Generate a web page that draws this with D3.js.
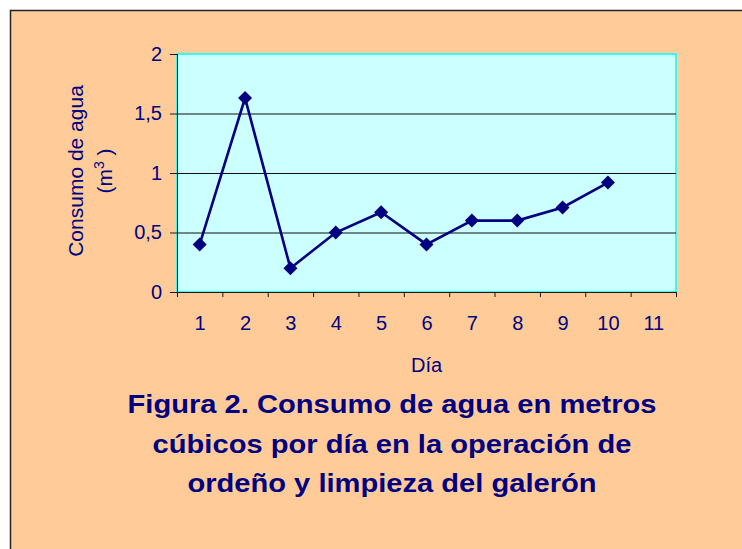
<!DOCTYPE html>
<html>
<head>
<meta charset="utf-8">
<script src="https://cdn.jsdelivr.net/npm/d3@7"></script>
<style>
  body { margin: 0; background: #fff; }
  svg { display: block; font-family: "Liberation Sans", Arial, sans-serif; }
  .axis path, .axis line { stroke: #1a1a1a; }
  .axis text { fill: #000080; font-size: 20px; }
</style>
</head>
<body>
<div id="chart"></div>
<script>
// data
var days = [1, 2, 3, 4, 5, 6, 7, 8, 9, 10, 11];
var consumo = [0.4, 1.63, 0.2, 0.5, 0.67, 0.4, 0.6, 0.6, 0.71, 0.92];
var yTicks = [0, 0.5, 1, 1.5, 2];
var yTitle = "Consumo de agua";
var xTitle = "Día";
var titleLines = [
    "Figura 2. Consumo de agua en metros",
    "cúbicos por día en la operación de",
    "ordeño y limpieza del galerón"
];

function init() {
    var w = 742, h = 549;
    var left = 177, right = 676, top = 54, bottom = 292;
    var navy = "#000080";

    var svg = d3.select("#chart").append("svg").attr("width", w).attr("height", h);

    // outer frame
    svg.append("rect")
        .attr("x", 10.5).attr("y", 10.5)
        .attr("width", 800).attr("height", 600)
        .attr("fill", "#FFCC99")
        .attr("stroke", "#222").attr("stroke-width", 1.5);

    var xScale = d3.scaleLinear().domain([0.5, days.length + 0.5]).range([left, right]);
    var yScale = d3.scaleLinear().domain([0, 2]).range([bottom, top]);

    // plot area
    svg.append("rect")
        .attr("x", left).attr("y", top)
        .attr("width", right - left).attr("height", bottom - top)
        .attr("fill", "#CCFFFF")
        .attr("stroke", "#00FFFF").attr("stroke-width", 1.5);

    // gridlines
    svg.append("g").selectAll("line")
        .data(yTicks.filter(function (d) { return d > 0 && d < 2; }))
        .enter().append("line")
        .attr("x1", left).attr("x2", right)
        .attr("y1", function (d) { return yScale(d) + 0.5; })
        .attr("y2", function (d) { return yScale(d) + 0.5; })
        .attr("stroke", "#111").attr("stroke-width", 1);

    // y axis
    svg.append("g")
        .attr("class", "axis")
        .attr("transform", "translate(" + left + ",0)")
        .call(d3.axisLeft(yScale).tickValues(yTicks).tickSize(7).tickPadding(8)
            .tickFormat(function (d) { return String(d).replace(".", ","); }))
        .call(function (g) { g.select(".domain").attr("d", "M0.5," + top + "V" + bottom); });

    // x axis: tick marks at category boundaries, labels at the centres
    var bounds = days.map(function (d) { return d - 0.5; }).concat([days.length + 0.5]);
    svg.append("g")
        .attr("class", "axis")
        .attr("transform", "translate(0," + bottom + ")")
        .call(d3.axisBottom(xScale).tickValues(bounds).tickSize(5).tickFormat(""))
        .call(function (g) { g.select(".domain").attr("d", "M" + left + ",0.5H" + right); });

    svg.append("g")
        .attr("class", "axis")
        .attr("transform", "translate(0," + bottom + ")")
        .call(d3.axisBottom(xScale).tickValues(days).tickSize(0).tickPadding(24).tickFormat(d3.format("d")))
        .call(function (g) { g.select(".domain").remove(); });

    // line + markers
    var line = d3.line()
        .x(function (d, i) { return xScale(days[i]); })
        .y(function (d) { return yScale(d); });

    svg.append("path")
        .attr("d", line(consumo))
        .attr("fill", "none")
        .attr("stroke", navy)
        .attr("stroke-width", 2.6);

    svg.append("g").selectAll("path")
        .data(consumo)
        .enter().append("path")
        .attr("d", d3.symbol().type(d3.symbolSquare).size(98))
        .attr("transform", function (d, i) {
            return "translate(" + xScale(days[i]) + "," + yScale(d) + ") rotate(45)";
        })
        .attr("fill", navy);

    // axis titles
    svg.append("text")
        .attr("x", (left + right) / 2).attr("y", 372)
        .attr("text-anchor", "middle")
        .attr("fill", navy).style("font-size", "20px")
        .text(xTitle);

    var yt = svg.append("g").attr("transform", "translate(83,171) rotate(-90)");
    yt.append("text")
        .attr("text-anchor", "middle")
        .attr("fill", navy).style("font-size", "21px")
        .text(yTitle);
    var unit = yt.append("text")
        .attr("y", 29)
        .attr("text-anchor", "middle")
        .attr("fill", navy).style("font-size", "21px");
    unit.append("tspan").text("(m");
    unit.append("tspan").attr("dy", -8).style("font-size", "14px").text("3");
    unit.append("tspan").attr("dy", 8).text(" )");

    // figure caption
    svg.append("g").selectAll("text")
        .data(titleLines)
        .enter().append("text")
        .attr("transform", function (d, i) {
            return "translate(392," + (413 + i * 39.5) + ") scale(1.12,1)";
        })
        .attr("text-anchor", "middle")
        .attr("fill", navy)
        .style("font-size", "26px").style("font-weight", "bold")
        .text(function (d) { return d; });
}
window.onload = init;
</script>
</body>
</html>
